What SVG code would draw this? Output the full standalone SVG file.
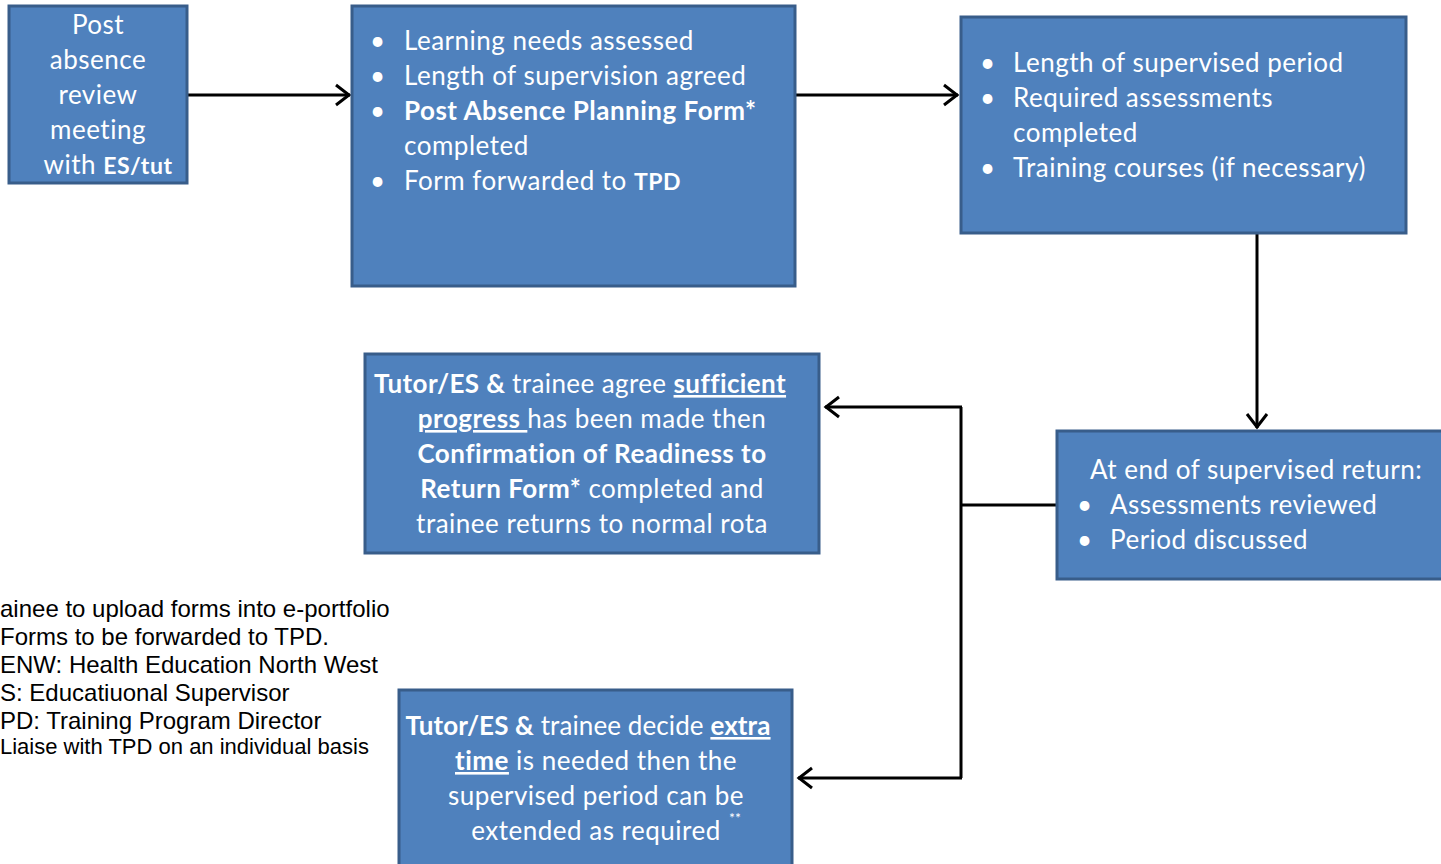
<svg xmlns="http://www.w3.org/2000/svg" width="1441" height="864" viewBox="0 0 1441 864">
<style>
.box{fill:#4F81BD;stroke:#385D8A;stroke-width:3}
.t{font-family:Lato,"Open Sans",sans-serif;font-size:26px;letter-spacing:0.5px;fill:#fff}
.b{font-weight:bold}
.u{text-decoration:underline}
.c{text-anchor:middle}
.leg{font-family:"Liberation Sans",Arial,sans-serif;font-size:24px;fill:#000}
.con{fill:none;stroke:#000;stroke-width:3}
</style>
<defs>
<marker id="arr" markerUnits="userSpaceOnUse" viewBox="0 0 20 24" markerWidth="20" markerHeight="24" refX="18" refY="12" orient="auto">
<path d="M4,2 L17,12 L4,22" fill="none" stroke="#000" stroke-width="3"/>
</marker>
</defs>
<rect width="1441" height="864" fill="#fff"/>
<g id="connectors">
<line class="con" x1="188" y1="95" x2="350" y2="95" marker-end="url(#arr)"/>
<line class="con" x1="796" y1="95" x2="958" y2="95" marker-end="url(#arr)"/>
<line class="con" x1="1257" y1="234" x2="1257" y2="428" marker-end="url(#arr)"/>
<path class="con" d="M1056,505 L961,505"/>
<path class="con" d="M961,407 L961,778"/>
<line class="con" x1="962" y1="407" x2="825" y2="407" marker-end="url(#arr)"/>
<line class="con" x1="962" y1="778" x2="798" y2="778" marker-end="url(#arr)"/>
</g>
<g id="node-post-absence">
<rect class="box" x="9" y="6" width="178" height="177"/>
<text class="t c" x="98" y="34">Post</text>
<text class="t c" x="98" y="69">absence</text>
<text class="t c" x="98" y="104">review</text>
<text class="t c" x="98" y="139">meeting</text>
<text class="t c" x="108" y="174">with <tspan class="b" style="font-size:23px">ES/tut</tspan></text>
</g>
<g id="node-learning-needs">
<rect class="box" x="352" y="6" width="443" height="280"/>
<text class="t" x="370" y="50">•</text><text class="t" x="404" y="50">Learning needs assessed</text>
<text class="t" x="370" y="85">•</text><text class="t" x="404" y="85">Length of supervision agreed</text>
<text class="t" x="370" y="120">•</text><text class="t b" x="404" y="120">Post Absence Planning  Form*</text>
<text class="t" x="404" y="155">completed</text>
<text class="t" x="370" y="190">•</text><text class="t" x="404" y="190">Form forwarded to  <tspan class="b" style="font-size:23px">TPD</tspan></text>
</g>
<g id="node-supervised-period">
<rect class="box" x="961" y="17" width="445" height="216"/>
<text class="t" x="980" y="72">•</text><text class="t" x="1013" y="72">Length of supervised period</text>
<text class="t" x="980" y="107">•</text><text class="t" x="1013" y="107">Required assessments</text>
<text class="t" x="1013" y="142">completed</text>
<text class="t" x="980" y="177">•</text><text class="t" x="1013" y="177">Training courses (if necessary)</text>
</g>
<g id="node-end-review">
<rect class="box" x="1057" y="431" width="400" height="148"/>
<text class="t" x="1090" y="479">At end of supervised return:</text>
<text class="t" x="1077" y="514">•</text><text class="t" x="1110" y="514">Assessments reviewed</text>
<text class="t" x="1077" y="549">•</text><text class="t" x="1110" y="549">Period discussed</text>
</g>
<g id="node-sufficient-progress">
<rect class="box" x="365" y="354" width="454" height="199"/>
<text class="t c" x="580" y="393" style="letter-spacing:0.4px"><tspan class="b">Tutor/ES &amp; </tspan> trainee agree <tspan class="b u">sufficient</tspan></text>
<text class="t c" x="592" y="428"><tspan class="b u">progress </tspan>has been made then</text>
<text class="t c b" x="592" y="463">Confirmation of Readiness to</text>
<text class="t c" x="592" y="498"><tspan class="b">Return Form*</tspan> completed and</text>
<text class="t c" x="592" y="533">trainee returns to normal rota</text>
</g>
<g id="node-extra-time">
<rect class="box" x="399" y="690" width="393" height="190"/>
<text class="t c" x="588" y="735" style="letter-spacing:0.1px"><tspan class="b">Tutor/ES &amp;</tspan> trainee decide <tspan class="b u">extra</tspan></text>
<text class="t c" x="596" y="770"><tspan class="b u">time</tspan> is needed then the</text>
<text class="t c" x="596" y="805">supervised period can be</text>
<text class="t c" x="596" y="840">extended as required</text>
<text class="t" x="729" y="823" style="font-size:14px;letter-spacing:0">**</text>
</g>
<g id="legend">
<text class="leg" x="0" y="617">ainee to upload forms into e-portfolio</text>
<text class="leg" x="0" y="645">Forms to be forwarded to TPD.</text>
<text class="leg" x="0" y="673">ENW: Health Education North West</text>
<text class="leg" x="0" y="701">S: Educatiuonal Supervisor</text>
<text class="leg" x="0" y="729">PD: Training Program Director</text>
<text class="leg" x="0" y="754" style="font-size:22px">Liaise with TPD on an individual basis</text>
</g>
</svg>
